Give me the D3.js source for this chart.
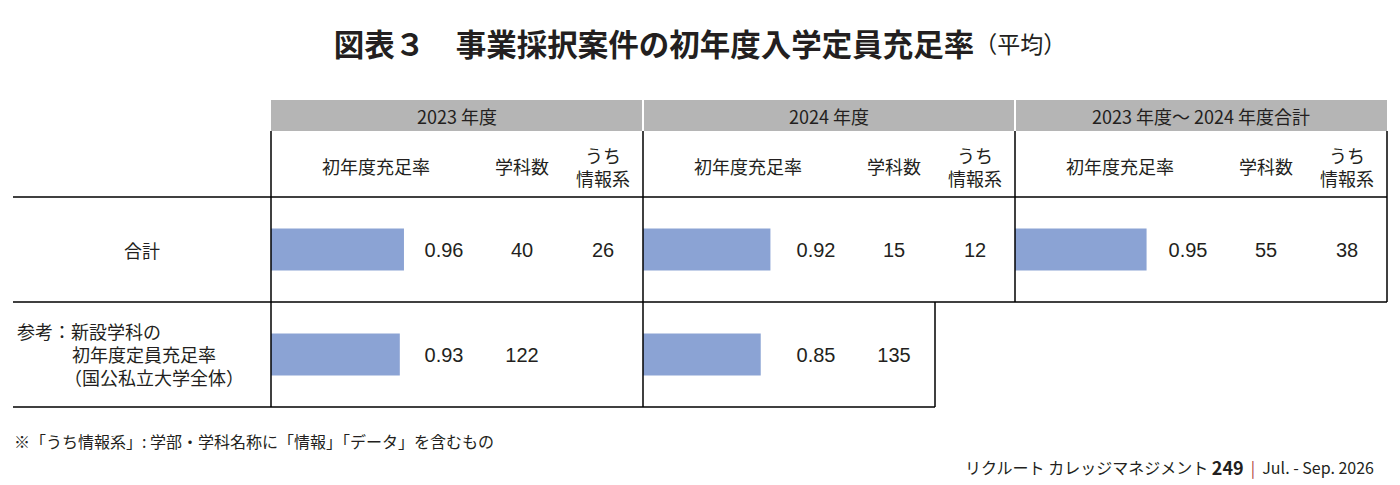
<!DOCTYPE html>
<html>
<head>
<meta charset="utf-8">
<script src="https://cdn.jsdelivr.net/npm/d3@7"></script>
<style>
  body { margin: 0; background: #fff; }
  svg { display: block; font-family: "Noto Sans CJK JP", "Noto Sans", sans-serif; }
  text { white-space: pre; }
  .num { font-family: "Liberation Sans", "Noto Sans", sans-serif; }
</style>
</head>
<body>
<svg id="chart" width="1400" height="485"></svg>
<script>
// data
const groups = ["2023 年度", "2024 年度", "2023 年度～ 2024 年度合計"]
const colHeads = ["初年度充足率", "学科数", ["うち", "情報系"]]
const rowLabels = ["合計", ["参考：新設学科の", "初年度定員充足率", "（国公私立大学全体）"]]
const rateTotal = [0.96, 0.92, 0.95]
const deptTotal = [40, 15, 55]
const infoTotal = [26, 12, 38]
const rateRef = [0.93, 0.85]
const deptRef = [122, 135]

const svg = d3.select("#chart")
const ink = "#231f20"
const barColor = "#8ba3d4"

const gx = d3.scaleBand().domain(groups).range([271, 1387])
const ry = d3.scaleBand().domain([0, 1]).range([197, 407])
const rateX = d3.scaleLinear().domain([0, 1]).range([0, 138.5])
const colOff = [105, 251, 332]   // centres of the three columns inside a group
const valOff = 173

// title
const title = svg.append("text")
   .attr("x", 700).attr("y", 43)
   .attr("text-anchor", "middle").attr("dominant-baseline", "central")
   .attr("fill", ink)
title.append("tspan").attr("font-size", 30.5).attr("font-weight", "bold")
   .text("図表３　事業採択案件の初年度入学定員充足率")
title.append("tspan").attr("font-size", 23).text("（平均）")

// gray header band
svg.selectAll(".gh").data(groups).enter().append("rect")
   .attr("x", (d, i) => gx(d) + (i ? 1 : 0))
   .attr("y", 100)
   .attr("width", (d, i) => gx.bandwidth() - (i ? 1 : 0) - (i < 2 ? 1 : 0))
   .attr("height", 31)
   .attr("fill", "#b5b5b5")

svg.selectAll(".ght").data(groups).enter().append("text")
   .attr("x", d => gx(d) + gx.bandwidth() / 2)
   .attr("y", 116)
   .attr("text-anchor", "middle").attr("dominant-baseline", "central")
   .attr("font-size", 18).attr("fill", ink)
   .text(d => d)

// column headers
groups.forEach(g => {
   colHeads.forEach((h, j) => {
      const lines = Array.isArray(h) ? h : [h]
      lines.forEach((t, k) => {
         svg.append("text")
            .attr("x", gx(g) + colOff[j])
            .attr("y", lines.length > 1 ? 155 + k * 23 : 166)
            .attr("text-anchor", "middle").attr("dominant-baseline", "central")
            .attr("font-size", 18).attr("fill", ink)
            .text(t)
      })
   })
})

// row labels
svg.append("text")
   .attr("x", 142).attr("y", ry(0) + ry.bandwidth() / 2)
   .attr("text-anchor", "middle").attr("dominant-baseline", "central")
   .attr("font-size", 18).attr("fill", ink)
   .text(rowLabels[0])

rowLabels[1].forEach((t, k) => {
   svg.append("text")
      .attr("x", k === 0 ? 17 : (k === 2 ? 64 : 72))
      .attr("y", ry(1) + 29 + k * 23)
      .attr("dominant-baseline", "central")
      .attr("font-size", 18).attr("fill", ink)
      .text(t)
})

// bars
const barH = 42
function drawRow(row, rates, depts, infos) {
   const cy = ry(row) + ry.bandwidth() / 2
   svg.selectAll(".bar" + row).data(rates).enter().append("rect")
      .attr("x", (d, i) => gx(groups[i]))
      .attr("y", cy - barH / 2)
      .attr("width", d => rateX(d))
      .attr("height", barH)
      .attr("fill", barColor)
   svg.selectAll(".rv" + row).data(rates).enter().append("text")
      .attr("class", "num")
      .attr("x", (d, i) => gx(groups[i]) + valOff)
      .attr("y", cy)
      .attr("text-anchor", "middle").attr("dominant-baseline", "central")
      .attr("font-size", 20).attr("fill", ink)
      .text(d => d3.format(".2f")(d))
   svg.selectAll(".dv" + row).data(depts).enter().append("text")
      .attr("class", "num")
      .attr("x", (d, i) => gx(groups[i]) + colOff[1])
      .attr("y", cy)
      .attr("text-anchor", "middle").attr("dominant-baseline", "central")
      .attr("font-size", 20).attr("fill", ink)
      .text(d => d)
   svg.selectAll(".iv" + row).data(infos).enter().append("text")
      .attr("class", "num")
      .attr("x", (d, i) => gx(groups[i]) + colOff[2])
      .attr("y", cy)
      .attr("text-anchor", "middle").attr("dominant-baseline", "central")
      .attr("font-size", 20).attr("fill", ink)
      .text(d => d)
}
drawRow(0, rateTotal, deptTotal, infoTotal)
drawRow(1, rateRef, deptRef, [])

// grid lines
const x0 = 13, xEnd = gx.range()[1]
const refEnd = gx(groups[1]) + 292
const lines = [
   [x0, ry(0), xEnd, ry(0)],
   [x0, ry(1), xEnd, ry(1)],
   [x0, ry(1) + ry.bandwidth(), refEnd, ry(1) + ry.bandwidth()],
   [gx(groups[0]), 131, gx(groups[0]), ry(1) + ry.bandwidth()],
   [gx(groups[1]), 131, gx(groups[1]), ry(1) + ry.bandwidth()],
   [gx(groups[2]), 131, gx(groups[2]), ry(1)],
   [xEnd, 131, xEnd, ry(1)],
   [refEnd, ry(1), refEnd, ry(1) + ry.bandwidth()]
]
svg.selectAll(".grid").data(lines).enter().append("line")
   .attr("x1", d => d[0]).attr("y1", d => d[1])
   .attr("x2", d => d[2]).attr("y2", d => d[3])
   .attr("stroke", "#000").attr("stroke-width", 1.5)

// footnote
svg.append("text")
   .attr("x", 14).attr("y", 441)
   .attr("dominant-baseline", "central")
   .attr("font-size", 16).attr("fill", ink)
   .text("※「うち情報系」: 学部・学科名称に「情報」「データ」を含むもの")

// source
const src = svg.append("text")
   .attr("x", 1374).attr("y", 467)
   .attr("text-anchor", "end").attr("dominant-baseline", "central")
   .attr("font-size", 16).attr("fill", ink)
src.append("tspan").text("リクルート カレッジマネジメント ")
src.append("tspan").attr("font-weight", "bold").attr("font-size", 18).text("249")
src.append("tspan").attr("fill", "#b03a3a").text("  |  ")
src.append("tspan").text("Jul. - Sep. 2026")
</script>
</body>
</html>
